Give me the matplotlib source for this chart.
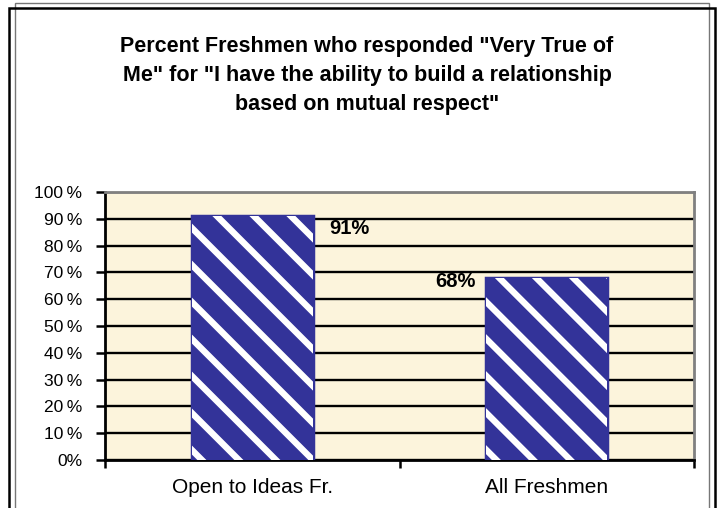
import matplotlib
matplotlib.use("Agg")
import matplotlib.pyplot as plt
from matplotlib.patches import Rectangle
from matplotlib.lines import Line2D
from matplotlib.transforms import IdentityTransform

categories = ["Open to Ideas Fr.", "All Freshmen"]
percent_very_true = [91, 68]
value_labels = ["91%", "68%"]
y_ticks = list(range(0, 101, 10))
y_tick_labels = ["0%"] + [f"{t}\u2009%" for t in y_ticks[1:]]
title = ('Percent Freshmen who responded "Very True of\n'
         'Me" for "I have the ability to build a relationship\n'
         'based on mutual respect"')

plt.rcParams['font.family'] = ['Liberation Sans', 'DejaVu Sans']

W, H = 718, 508
fig = plt.figure(figsize=(W / 100, H / 100), dpi=100)
fig.patch.set_facecolor('white')

# outer double frame
fig.patches.append(Rectangle((15 / W, -0.1), 694 / W, 1.1 - 3 / H, transform=fig.transFigure,
                             fill=False, edgecolor='#777777', lw=1.0))
fig.patches.append(Rectangle((9 / W, -0.1), 706 / W, 1.1 - 8.5 / H, transform=fig.transFigure,
                             fill=False, edgecolor='black', lw=1.8))

ax = fig.add_axes([105 / W, 48 / H, 589 / W, 268 / H])
ax.set_facecolor('#FCF4DC')

blue = '#333399'
x = list(range(len(categories)))
bars = ax.bar(x, percent_very_true, width=0.41, color=blue, edgecolor=blue, lw=2, zorder=3)

ax.set_xlim(-0.5, 1.5)
ax.set_ylim(0, 100)
ax.set_yticks(y_ticks)
ax.set_yticklabels(y_tick_labels, fontsize=12.5)
ax.set_xticks(x)
ax.set_xticklabels(categories, fontsize=15)
ax.set_xticks([-0.5, 0.5, 1.5], minor=True)
ax.tick_params(axis='x', which='major', length=0, pad=13)
ax.tick_params(axis='x', which='minor', length=6, width=1.8, direction='out')
ax.tick_params(axis='y', length=6.5, width=1.8, pad=10, direction='out')

ax.yaxis.grid(True, color='black', lw=1.7, zorder=1)
ax.set_axisbelow(True)
for s in ['left', 'bottom']:
    ax.spines[s].set_linewidth(2)
    ax.spines[s].set_color('black')
for s in ['top', 'right']:
    ax.spines[s].set_linewidth(2)
    ax.spines[s].set_color('#808080')

# value labels (placed beside the bar tops, as in the original)
label_dx = [0.33, -0.31]
label_dy = [-4.5, -1.5]
for i, (v, lab) in enumerate(zip(percent_very_true, value_labels)):
    ax.text(i + label_dx[i], v + label_dy[i], lab, ha='center', va='center',
            fontsize=14.5, fontweight='bold', zorder=4)

fig.text(367 / W, 1 - 36 / H, title, ha='center', va='top', fontsize=15.5,
         fontweight='bold', linespacing=1.5)

# white diagonal stripes inside the bars
fig.canvas.draw()
period = 37
for b in bars:
    bb = b.get_window_extent()
    h = bb.height
    off = bb.x0 - h - period
    while off < bb.x1 + period:
        ln = Line2D([off, off + h + 20], [bb.y1 + 10, bb.y1 - h - 10],
                    transform=IdentityTransform(), color='white', lw=4.6,
                    solid_capstyle='butt', zorder=3.5)
        ln.set_clip_path(b)
        fig.add_artist(ln)
        off += period
    ax.add_patch(Rectangle((b.get_x(), 0), b.get_width(), b.get_height(),
                           fill=False, edgecolor=blue, lw=2.5, zorder=3.6))

fig.savefig('out.png', dpi=100)
